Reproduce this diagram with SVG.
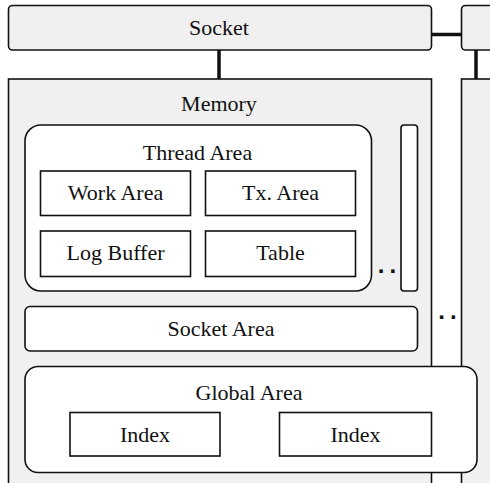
<svg xmlns="http://www.w3.org/2000/svg" width="490" height="483" viewBox="0 0 490 483">
  <style>
    .lbl { font-family: "Liberation Serif", "Times New Roman", serif; font-size: 22px; fill: #111; text-anchor: middle; }
    .shell { fill: #f0f0f0; stroke: #111; stroke-width: 1.6; }
    .area { fill: #ffffff; stroke: #111; stroke-width: 1.6; }
    .cell { fill: #ffffff; stroke: #111; stroke-width: 1.6; }
    .link { stroke: #111; stroke-width: 3.5; fill: none; }
    .dots { font-family: "Liberation Sans", Arial, sans-serif; font-size: 24px; font-weight: bold; fill: #111; text-anchor: middle; letter-spacing: 5px; }
  </style>
  <rect width="490" height="483" fill="#ffffff"/>

  <!-- connectors between sockets and memories -->
  <g id="connectors">
    <line class="link" x1="431.5" y1="34.5" x2="461.5" y2="34.5"/>
    <line class="link" x1="219" y1="50" x2="219" y2="79"/>
    <line class="link" x1="476" y1="50" x2="476" y2="79"/>
  </g>

  <g id="socket">
    <rect class="shell" x="8.5" y="5.5" width="423" height="44.5" rx="4"/>
    <text class="lbl" x="219" y="34.5">Socket</text>
  </g>
  <g id="socket-2">
    <rect class="shell" x="461.5" y="5.5" width="60" height="44.5" rx="4"/>
  </g>

  <g id="memory-2">
    <rect class="shell" x="461.5" y="79" width="60" height="420"/>
  </g>

  <g id="memory">
    <rect class="shell" x="8.5" y="79" width="423" height="420"/>
    <text class="lbl" x="219" y="111">Memory</text>
  </g>

  <g id="thread-area">
    <rect class="area" x="25" y="125" width="346.5" height="166" rx="16"/>
    <text class="lbl" x="197.5" y="160">Thread Area</text>
  </g>
  <g id="work-area">
    <rect class="cell" x="40.5" y="171" width="150" height="44.5"/>
    <text class="lbl" x="115.5" y="199.5">Work Area</text>
  </g>
  <g id="tx-area">
    <rect class="cell" x="205.5" y="171" width="150" height="44.5"/>
    <text class="lbl" x="280.5" y="199.5">Tx. Area</text>
  </g>
  <g id="log-buffer">
    <rect class="cell" x="40.5" y="231" width="150" height="45.5"/>
    <text class="lbl" x="115.5" y="259.5">Log Buffer</text>
  </g>
  <g id="table">
    <rect class="cell" x="205.5" y="231" width="150" height="45.5"/>
    <text class="lbl" x="280.5" y="259.5">Table</text>
  </g>

  <g id="thread-area-more">
    <rect class="area" x="401" y="125" width="16.5" height="166" rx="3"/>
    <text class="dots" x="389.5" y="273">..</text>
  </g>

  <g id="socket-area">
    <rect class="area" x="25" y="306.5" width="392.5" height="44.5" rx="5"/>
    <text class="lbl" x="221" y="335.5">Socket Area</text>
  </g>

  <g id="memory-more">
    <text class="dots" x="450" y="318.5">..</text>
  </g>

  <g id="global-area">
    <rect class="area" x="25" y="366.5" width="452" height="106" rx="13"/>
    <text class="lbl" x="249" y="400">Global Area</text>
  </g>
  <g id="index-1">
    <rect class="cell" x="70" y="412.5" width="150" height="43.5"/>
    <text class="lbl" x="145" y="441.5">Index</text>
  </g>
  <g id="index-2">
    <rect class="cell" x="279.5" y="412.5" width="152" height="43.5"/>
    <text class="lbl" x="355.5" y="441.5">Index</text>
  </g>
</svg>
